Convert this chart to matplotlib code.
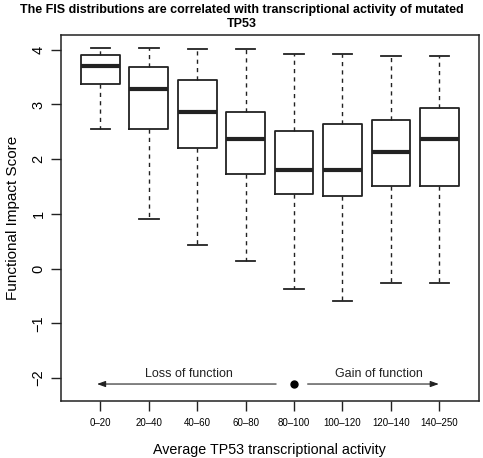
import matplotlib
matplotlib.use("Agg")
import matplotlib.pyplot as plt

plt.rcParams['font.family'] = ['Liberation Sans', 'DejaVu Sans']

groups = ['0–20', '20–40', '40–60', '60–80', '80–100', '100–120', '120–140', '140–250']
whis_hi = [4.03, 4.03, 4.01, 4.01, 3.92, 3.92, 3.88, 3.88]
q3 = [3.91, 3.68, 3.45, 2.87, 2.52, 2.65, 2.71, 2.94]
med = [3.71, 3.28, 2.86, 2.36, 1.80, 1.80, 2.13, 2.37]
q1 = [3.37, 2.55, 2.21, 1.73, 1.36, 1.32, 1.51, 1.51]
whis_lo = [2.56, 0.90, 0.44, 0.13, -0.38, -0.59, -0.26, -0.26]

# arrow annotation below the boxes
arrow_y = -2.11
center_x = 5
loss_x = (4.63, 0.93)
gain_x = (5.28, 7.99)

stats = []
for i in range(len(groups)):
    stats.append(dict(label=groups[i], whislo=whis_lo[i], q1=q1[i], med=med[i],
                      q3=q3[i], whishi=whis_hi[i], fliers=[]))

fig = plt.figure(figsize=(4.83, 4.58), dpi=100)
ax = fig.add_axes([0.1257, 0.1245, 0.8660, 0.7991])

line_c = '#222222'
ax.bxp(stats, positions=range(1, 9), widths=0.8, showfliers=False,
       boxprops=dict(color=line_c, linewidth=1.3),
       medianprops=dict(color=line_c, linewidth=3.0, solid_capstyle='butt'),
       whiskerprops=dict(color=line_c, linewidth=1.0, linestyle=(0, (3, 3))),
       capprops=dict(color=line_c, linewidth=1.3),
       capwidths=0.4)

ax.plot([center_x], [arrow_y], 'o', color='black', markersize=5)
ax.annotate('', xy=(loss_x[1], arrow_y), xytext=(loss_x[0], arrow_y),
            arrowprops=dict(arrowstyle='-|>,head_length=0.5,head_width=0.18',
                            color=line_c, lw=0.8, shrinkA=0, shrinkB=0))
ax.annotate('', xy=(gain_x[1], arrow_y), xytext=(gain_x[0], arrow_y),
            arrowprops=dict(arrowstyle='-|>,head_length=0.5,head_width=0.18',
                            color=line_c, lw=0.8, shrinkA=0, shrinkB=0))
ax.text(2.82, -1.92, 'Loss of function', ha='center', va='center', fontsize=9, color=line_c)
ax.text(6.76, -1.92, 'Gain of function', ha='center', va='center', fontsize=9, color=line_c)

ax.set_xlim(0.18, 8.82)
ax.set_ylim(-2.42, 4.27)
ax.set_xticks(range(1, 9))
ax.set_xticklabels(groups, fontsize=7)
ax.set_yticks(range(-2, 5))
ax.tick_params(axis='y', labelsize=10.5, length=7, width=1, color=line_c, pad=4)
ax.tick_params(axis='x', length=7, width=1, color=line_c, pad=5)
for t in ax.get_yticklabels():
    t.set_rotation(90)
    t.set_va('center')
for s in ax.spines.values():
    s.set_color(line_c)
    s.set_linewidth(1.1)

ax.set_xlabel('Average TP53 transcriptional activity', fontsize=10.3, labelpad=11)
ax.set_ylabel('Functional Impact Score', fontsize=11, labelpad=8)
fig.text(0.5, 0.992, 'The FIS distributions are correlated with transcriptional activity of mutated\nTP53',
         ha='center', va='top', fontsize=9.0, fontweight='bold', linespacing=1.3)

fig.savefig('out.png', dpi=100)
